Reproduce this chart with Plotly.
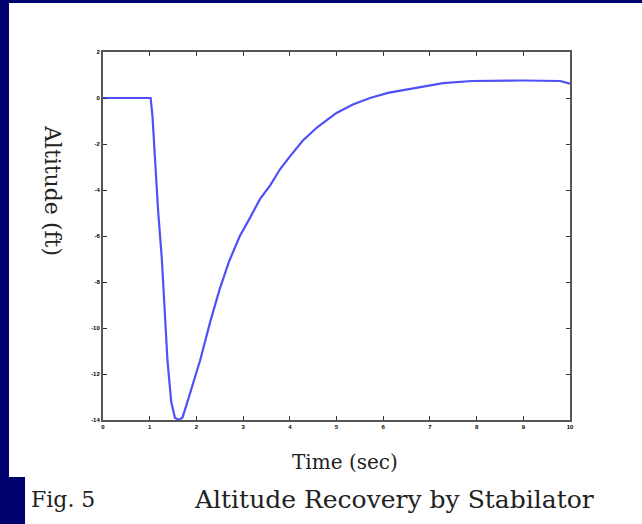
import plotly.graph_objects as go

time_sec = [0, 1.02, 1.06, 1.11, 1.18, 1.26, 1.32, 1.38, 1.46, 1.54, 1.62, 1.70, 1.78, 1.9,
            2.08, 2.3, 2.5, 2.7, 2.93, 3.15, 3.36, 3.58, 3.79, 4.0, 4.28, 4.6, 5.0, 5.35,
            5.72, 6.1, 6.57, 6.85, 7.28, 7.9, 8.5, 9.0, 9.79, 9.94, 10]
altitude_ft = [0, 0, -0.8, -2.7, -4.9, -7.0, -9.2, -11.4, -13.2, -13.9, -14.0, -13.9, -13.4, -12.6,
               -11.4, -9.7, -8.3, -7.1, -6.0, -5.2, -4.4, -3.8, -3.1, -2.55, -1.85, -1.25, -0.65, -0.28,
               0.0, 0.22, 0.39, 0.52, 0.65, 0.74, 0.76, 0.76, 0.74, 0.65, 0.62]
x_ticks = list(range(0, 11))
y_ticks = list(range(-14, 3, 2))

NAVY = "#00006e"
SERIF = "DejaVu Serif"

fig = go.Figure()
fig.add_trace(go.Scatter(x=time_sec, y=altitude_ft, mode="lines",
                         line=dict(color="#5050f8", width=2.2), hoverinfo="skip"))

axis_common = dict(showgrid=False, zeroline=False, showline=True, linecolor="#555555",
                   linewidth=2, mirror="ticks", ticks="inside", ticklen=4, tickwidth=1,
                   tickcolor="#333333",
                   tickfont=dict(family="Liberation Sans", size=6, color="black", weight="bold"))

fig.update_xaxes(range=[0, 10], tickvals=x_ticks, ticktext=[str(v) for v in x_ticks], **axis_common)
fig.update_yaxes(range=[-14, 2], tickvals=y_ticks, ticktext=[str(v) for v in y_ticks], **axis_common)

shapes = [
    dict(type="rect", xref="paper", yref="paper", x0=-0.2013, x1=1.3, y0=-0.1549, y1=1.1332,
         fillcolor="white", line=dict(width=0), layer="below"),
    dict(type="rect", xref="paper", yref="paper", x0=-0.167, x1=1.3, y0=-0.4, y1=-0.1549,
         fillcolor="white", line=dict(width=0), layer="below"),
]

annotations = [
    dict(text="Altitude (ft)", xref="paper", yref="paper", x=-0.107, y=0.625, textangle=90,
         xanchor="center", yanchor="middle",
         showarrow=False, font=dict(family=SERIF, size=22, color="#222222")),
    dict(text="Time (sec)", xref="paper", yref="paper", x=0.518, y=-0.114,
         xanchor="center", yanchor="middle",
         showarrow=False, font=dict(family=SERIF, size=20, color="#222222")),
    dict(text="Fig. 5", xref="paper", yref="paper", x=-0.158, y=-0.217, xanchor="left",
         yanchor="middle", showarrow=False, font=dict(family=SERIF, size=22, color="#222222")),
    dict(text="Altitude Recovery by Stabilator", xref="paper", yref="paper", x=0.1906, y=-0.217,
         xanchor="left", yanchor="middle", showarrow=False,
         font=dict(family=SERIF, size=25, color="#222222")),
]

fig.update_layout(width=642, height=524, margin=dict(l=103, r=72, t=52, b=104),
                  paper_bgcolor=NAVY, plot_bgcolor="white", showlegend=False,
                  shapes=shapes, annotations=annotations)

fig.write_html("out.html", config={"displayModeBar": False},
               post_script="document.body.style.margin='0';document.body.style.background='" + NAVY + "';")
